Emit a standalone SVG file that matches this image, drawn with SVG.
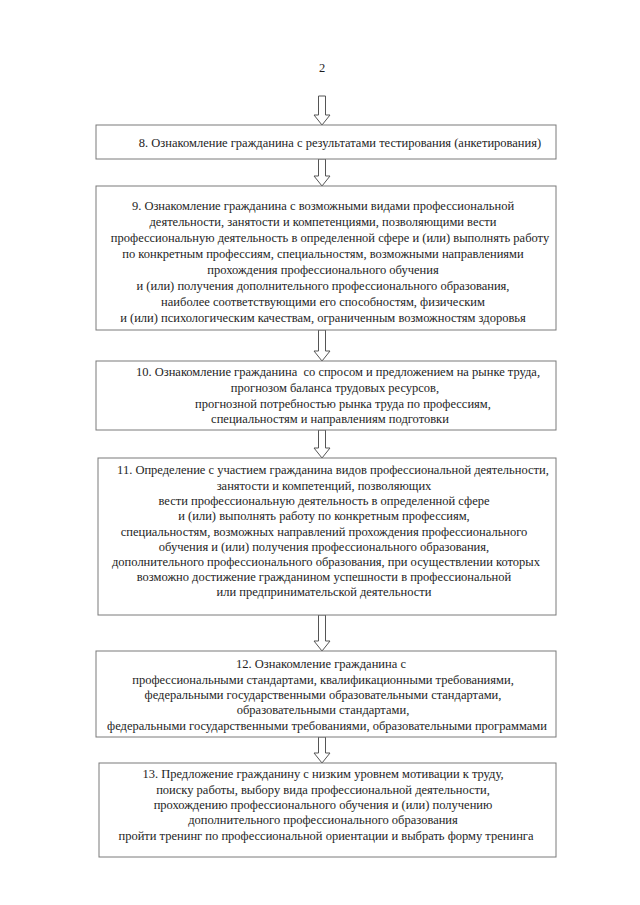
<svg xmlns="http://www.w3.org/2000/svg" width="640" height="905" viewBox="0 0 640 905">
<defs>
<style>
.box{fill:#fff;stroke:#7a7a7a;stroke-width:1}
.arr{fill:#fff;stroke:#555;stroke-width:1}
text{font-family:"Liberation Serif","Times New Roman",serif;font-size:12.5px;fill:#1e1e1e;text-anchor:middle}
</style>
</defs>
<rect width="640" height="905" fill="#fff"/>
<g font-family="Liberation Serif, serif">
<text x="322" y="72">2</text>
</g>
<g id="connectors">
<path class="arr" d="M318.5 96 H325.5 V115 H330 L322 125 L314 115 H318.5 Z"/>
<path class="arr" d="M318.5 159 H325.5 V176 H330 L322 186 L314 176 H318.5 Z"/>
<path class="arr" d="M318.5 330 H325.5 V351 H330 L322 361 L314 351 H318.5 Z"/>
<path class="arr" d="M318.5 430 H325.5 V448 H330 L322 458 L314 448 H318.5 Z"/>
<path class="arr" d="M318.5 615 H325.5 V641 H330 L322 651 L314 641 H318.5 Z"/>
<path class="arr" d="M318.5 737 H325.5 V753 H330 L322 763 L314 753 H318.5 Z"/>
</g>
<g id="n8" font-family="Liberation Serif, serif">
<rect class="box" x="96" y="125" width="460" height="34"/>
<text x="340" y="147">8. Ознакомление гражданина с результатами тестирования (анкетирования)</text>
</g>
<g id="n9" font-family="Liberation Serif, serif">
<rect class="box" x="96" y="186" width="460" height="144"/>
<text x="323" y="210">9. Ознакомление гражданина с возможными видами профессиональной</text>
<text x="323" y="226">деятельности, занятости и компетенциями, позволяющими вести</text>
<text x="330" y="242">профессиональную деятельность в определенной сфере и (или) выполнять работу</text>
<text x="323" y="258">по конкретным профессиям, специальностям, возможными направлениями</text>
<text x="323" y="274">прохождения профессионального обучения</text>
<text x="323" y="290">и (или) получения дополнительного профессионального образования,</text>
<text x="323" y="306">наиболее соответствующими его способностям, физическим</text>
<text x="323" y="322">и (или) психологическим качествам, ограниченным возможностям здоровья</text>
</g>
<g id="n10" font-family="Liberation Serif, serif">
<rect class="box" x="96" y="361" width="460" height="69"/>
<text x="338" y="376" xml:space="preserve">10. Ознакомление гражданина  со спросом и предложением на рынке труда,</text>
<text x="335" y="392">прогнозом баланса трудовых ресурсов,</text>
<text x="343" y="408">прогнозной потребностью рынка труда по профессиям,</text>
<text x="330" y="423">специальностям и направлениям подготовки</text>
</g>
<g id="n11" font-family="Liberation Serif, serif">
<rect class="box" x="98" y="458" width="458" height="157"/>
<text x="333" y="474">11. Определение с участием гражданина видов профессиональной деятельности,</text>
<text x="324" y="490">занятости и компетенций, позволяющих</text>
<text x="324" y="505">вести профессиональную деятельность в определенной сфере</text>
<text x="324" y="520">и (или) выполнять работу по конкретным профессиям,</text>
<text x="324" y="536">специальностям, возможных направлений прохождения профессионального</text>
<text x="324" y="551">обучения и (или) получения профессионального образования,</text>
<text x="326" y="566">дополнительного профессионального образования, при осуществлении которых</text>
<text x="324" y="581">возможно достижение гражданином успешности в профессиональной</text>
<text x="324" y="596">или предпринимательской деятельности</text>
</g>
<g id="n12" font-family="Liberation Serif, serif">
<rect class="box" x="96" y="651" width="460" height="86"/>
<text x="321" y="668">12. Ознакомление гражданина с</text>
<text x="323" y="684">профессиональными стандартами, квалификационными требованиями,</text>
<text x="323" y="699">федеральными государственными образовательными стандартами,</text>
<text x="323" y="714">образовательными стандартами,</text>
<text x="327" y="730">федеральными государственными требованиями, образовательными программами</text>
</g>
<g id="n13" font-family="Liberation Serif, serif">
<rect class="box" x="99" y="763" width="457" height="94"/>
<text x="323" y="778">13. Предложение гражданину с низким уровнем мотивации к труду,</text>
<text x="323" y="794">поиску работы, выбору вида профессиональной деятельности,</text>
<text x="323" y="809">прохождению профессионального обучения и (или) получению</text>
<text x="323" y="824">дополнительного профессионального образования</text>
<text x="326" y="840">пройти тренинг по профессиональной ориентации и выбрать форму тренинга</text>
</g>
</svg>
